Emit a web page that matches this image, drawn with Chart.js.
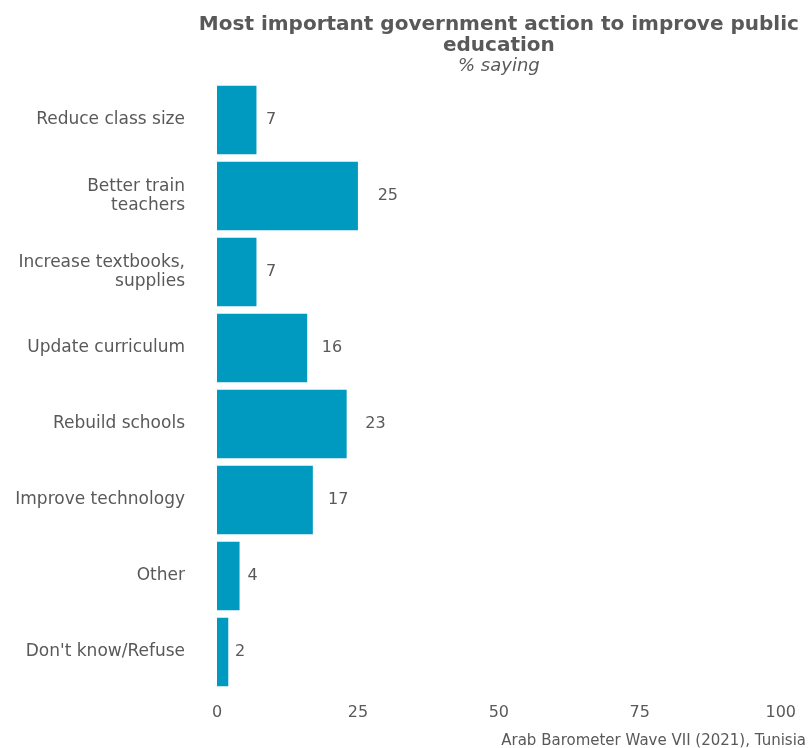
<!DOCTYPE html>
<html>
<head>
<meta charset="utf-8">
<script src="https://cdn.jsdelivr.net/npm/chart.js@4/dist/chart.umd.min.js"></script>
<style>
  html, body { margin: 0; padding: 0; background: #fff; }
  #wrap { width: 809px; height: 748px; }
</style>
</head>
<body>
<div id="wrap"><canvas id="chart"></canvas></div>
<script>
const categories = [
  'Reduce class size',
  ['Better train', 'teachers'],
  ['Increase textbooks,', 'supplies'],
  'Update curriculum',
  'Rebuild schools',
  'Improve technology',
  'Other',
  "Don't know/Refuse"
]
const values = [7, 25, 7, 16, 23, 17, 4, 2]
const xTicks = [0, 25, 50, 75, 100]

const titleLines = ['Most important government action to improve public', 'education']
const subtitle = '% saying'
const caption = 'Arab Barometer Wave VII (2021), Tunisia'

const FONT = '"DejaVu Sans", sans-serif'
const TEXT = '#595959'

// titles, value labels and the source note
const decorations = {
  id: 'decorations',
  afterDatasetsDraw(chart) {
    const ctx = chart.ctx
    const area = chart.chartArea
    const x = chart.scales.x
    const y = chart.scales.y
    const mid = (area.left + area.right) / 2
    ctx.save()
    ctx.fillStyle = TEXT
    ctx.textAlign = 'center'
    ctx.textBaseline = 'middle'
    ctx.font = 'bold 20px ' + FONT
    ctx.fillText(titleLines[0], mid, 25)
    ctx.fillText(titleLines[1], mid, 46)
    ctx.font = 'oblique 18px ' + FONT
    ctx.fillText(subtitle, mid, 66)

    ctx.font = '16px ' + FONT
    ctx.textAlign = 'left'
    values.forEach((v, i) => {
      ctx.fillText(String(v), x.getPixelForValue(v * 1.1 + 1), y.getPixelForValue(i))
    })

    ctx.font = '15px ' + FONT
    ctx.textAlign = 'right'
    ctx.fillText(caption, chart.width - 3, 741)
    ctx.restore()
  }
}

new Chart(document.getElementById('chart'), {
  type: 'bar',
  data: {
    labels: categories,
    datasets: [{
      data: values,
      backgroundColor: '#009ac1',
      categoryPercentage: 1,
      barPercentage: 0.9
    }]
  },
  options: {
    indexAxis: 'y',
    responsive: true,
    maintainAspectRatio: false,
    animation: false,
    layout: { padding: { top: 82, right: 28, bottom: 0, left: 0 } },
    plugins: {
      legend: { display: false },
      tooltip: { enabled: false }
    },
    scales: {
      x: {
        min: 0,
        max: 100,
        grid: { display: false, drawTicks: false },
        border: { display: false },
        afterBuildTicks(scale) { scale.ticks = xTicks.map(v => ({ value: v })) },
        afterFit(scale) { scale.height = 58 },
        ticks: { padding: 13, color: TEXT, font: { family: FONT, size: 16 } }
      },
      y: {
        grid: { display: false, drawTicks: false },
        border: { display: false },
        afterFit(scale) { scale.width = 217 },
        ticks: { padding: 32, color: TEXT, font: { family: FONT, size: 17, lineHeight: 1.15 } }
      }
    }
  },
  plugins: [decorations]
})
</script>
</body>
</html>
